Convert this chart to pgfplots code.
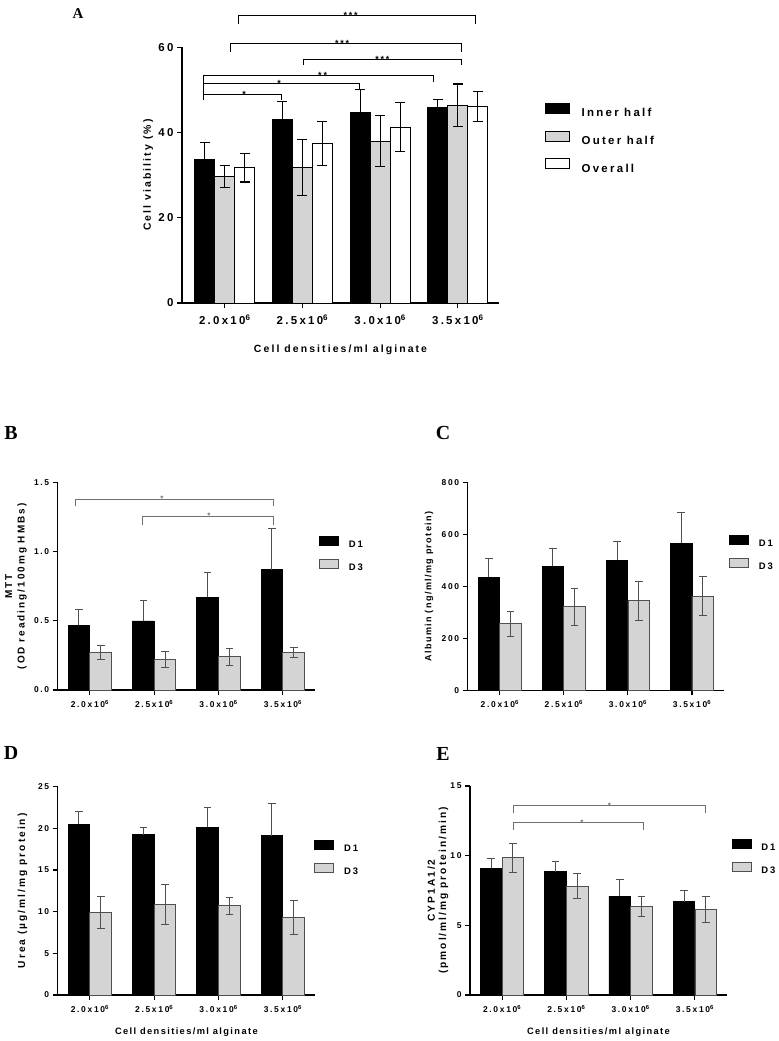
\documentclass[border=0pt]{standalone}
\usepackage{pgfplots}
\pgfplotsset{compat=1.18}
\usepackage{fontspec}
\setmainfont{Liberation Sans}
\newfontfamily\gp[LetterSpace=20]{Liberation Sans}
\newfontfamily\gpx[LetterSpace=15]{Liberation Sans}
\newfontfamily\ser{Liberation Serif}
\definecolor{lg}{HTML}{D4D4D4}
\definecolor{eg}{HTML}{505050}
\definecolor{bg}{HTML}{707070}
\newcommand\fs[1]{\fontsize{#1}{#1}\selectfont}

\pgfplotsset{
 panel/.style={
  anchor=south west, scale only axis, clip=false,
  axis lines=left, axis line style={-, line width=1.3bp, black},
  tick align=outside, major tick length=5bp,
  tick style={black, line width=1.1bp},
  xtick={0,1,2,3},
  xticklabels={2.0x10\textsuperscript{6},2.5x10\textsuperscript{6},3.0x10\textsuperscript{6},3.5x10\textsuperscript{6}},
  ymin=0,
  /pgf/number format/assume math mode=true,
  ylabel style={anchor=center},
  xlabel style={anchor=center},
  legend cell align=left,
 },
 small/.style={
  panel, xmin=-0.5, xmax=3.5,
  tick label style={font=\gp\bfseries\fs{8.5}},
  xticklabel style={yshift=-2bp},
  legend image code/.code={\draw[##1] (0bp,-1.1bp) rectangle (19bp,7.9bp);},
  legend style={at={(axis description cs:1.016,0.744)}, anchor=north west,
    draw=none, fill=none, inner sep=0pt, outer sep=0pt,
    font=\gp\bfseries\fs{9.5}, row sep=11bp,
    nodes={inner sep=0pt, text height=7bp, text depth=0bp},
    /tikz/every odd column/.append style={column sep=10bp}},
 },
 dA/.style={ybar, bar width=0.337, bar shift=0, fill=black, draw=black, line width=0.8bp,
   error bars/y dir=plus, error bars/y explicit,
   error bars/error bar style={eg, line width=1bp},
   error bars/error mark options={eg, rotate=90, mark size=3.8bp, line width=1bp}},
 dB/.style={ybar, bar width=0.337, bar shift=0, fill=lg, draw=eg, line width=0.8bp,
   error bars/y dir=both, error bars/y explicit,
   error bars/error bar style={eg, line width=1bp},
   error bars/error mark options={eg, rotate=90, mark size=3.8bp, line width=1bp}},
 eA/.style={ybar, bar width=0.257, bar shift=0, line width=0.9bp, draw=black,
   error bars/y dir=both, error bars/y explicit,
   error bars/error bar style={black, line width=1.1bp},
   error bars/error mark options={black, rotate=90, mark size=5bp, line width=1.1bp}},
 brA/.style={black, line width=1bp, mark=none},
 brB/.style={bg, line width=1bp, mark=none},
}

\begin{document}
\begin{tikzpicture}
\path[use as bounding box] (0,0) rectangle (779bp,-1041bp);

% panel letters
\node[font=\ser\bfseries\fs{15}] at (78bp,-14bp) {A};
\node[font=\ser\bfseries\fs{20}] at (11bp,-433bp) {B};
\node[font=\ser\bfseries\fs{20}] at (443bp,-433bp) {C};
\node[font=\ser\bfseries\fs{20}] at (11bp,-753bp) {D};
\node[font=\ser\bfseries\fs{20}] at (443bp,-754bp) {E};

% ---------------- Panel A
\begin{axis}[panel, at={(182bp,-303bp)}, width=317bp, height=255.7bp,
  xmin=-0.55, xmax=3.53, ymax=60, ytick={0,20,40,60},
  tick label style={font=\gp\bfseries\fs{11.5}},
  xticklabel style={yshift=-3bp},
  ylabel={Cell viability (\%)}, ylabel style={font=\gp\bfseries\fs{10.5}, at={(axis description cs:-0.107,0.5)}},
  xlabel={Cell densities/ml alginate}, xlabel style={font=\gp\bfseries\fs{10.5}, at={(axis description cs:0.5,-0.184)}},
  legend image code/.code={\draw[#1] (0bp,-0.9bp) rectangle (24bp,9.1bp);},
  legend style={at={(axis description cs:1.145,0.783)}, anchor=north west,
    draw=none, fill=none, inner sep=0pt, outer sep=0pt,
    font=\gp\bfseries\fs{11.5}, row sep=14bp,
    nodes={inner sep=0pt, text height=8.5bp, text depth=0bp},
    /tikz/every odd column/.append style={column sep=11.7bp}},
]
\addlegendimage{fill=black, draw=black, line width=0.9bp}
\addlegendentry{Inner half}
\addlegendimage{fill=lg, draw=black, line width=0.9bp}
\addlegendentry{Outer half}
\addlegendimage{fill=white, draw=black, line width=0.9bp}
\addlegendentry{Overall}
% Inner half (x = category - 0.257)
\addplot[eA, fill=black] coordinates {(-0.257,33.7) +- (0,4.0) (0.743,43.0) +- (0,4.2) (1.743,44.8) +- (0,5.3) (2.743,45.9) +- (0,1.9)};
% Outer half (x = category)
\addplot[eA, fill=lg] coordinates {(0,29.7) +- (0,2.6) (1,31.8) +- (0,6.5) (2,38.0) +- (0,6.0) (3,46.4) +- (0,5.0)};
% Overall (x = category + 0.257)
\addplot[eA, fill=white] coordinates {(0.257,31.7) +- (0,3.3) (1.257,37.4) +- (0,5.2) (2.257,41.3) +- (0,5.7) (3.257,46.1) +- (0,3.5)};
% significance brackets
\addplot[brA] coordinates {(0.171,65.4) (0.171,67.5) (3.23,67.5) (3.23,65.4)};
\addplot[brA] coordinates {(0.077,58.9) (0.077,61.0) (3.05,61.0) (3.05,58.9)};
\addplot[brA] coordinates {(1.02,55.8) (1.02,57.2) (3.05,57.2) (3.05,55.8)};
\addplot[brA] coordinates {(-0.27,47.6) (-0.27,53.5) (2.69,53.5) (2.69,51.8)};
\addplot[brA] coordinates {(-0.27,51.6) (1.74,51.6) (1.74,49.9)};
\addplot[brA] coordinates {(-0.27,48.9) (0.73,48.9) (0.73,47.6)};
\node[font=\gp\bfseries\fs{9}, anchor=base, yshift=-3bp] at (axis cs:1.62,67.5) {***};
\node[font=\gp\bfseries\fs{9}, anchor=base, yshift=-3bp] at (axis cs:1.51,61.0) {***};
\node[font=\gp\bfseries\fs{9}, anchor=base, yshift=-3bp] at (axis cs:2.03,57.2) {***};
\node[font=\gp\bfseries\fs{9}, anchor=base, yshift=-3bp] at (axis cs:1.26,53.5) {**};
\node[font=\gp\bfseries\fs{9}, anchor=base, yshift=-3bp] at (axis cs:0.70,51.6) {*};
\node[font=\gp\bfseries\fs{9}, anchor=base, yshift=-3bp] at (axis cs:0.25,48.9) {*};
\end{axis}

% ---------------- Panel B
\begin{axis}[small, at={(57.7bp,-690bp)}, width=257.3bp, height=207.3bp,
  ymax=1.5, ytick={0,0.5,1,1.5},
  yticklabel style={/pgf/number format/.cd, fixed, fixed zerofill, precision=1},
  ylabel={MTT\\(OD reading/100mg HMBs)},
  ylabel style={align=center, font=\gp\bfseries\fontsize{10}{12.5}\selectfont, at={(axis description cs:-0.162,0.5)}},
]
\addlegendimage{fill=black, draw=black, line width=0.8bp}
\addlegendentry{D1}
\addlegendimage{fill=lg, draw=eg, line width=0.8bp}
\addlegendentry{D3}
\addplot[dA] coordinates {(-0.169,0.47) +- (0,0.11) (0.831,0.50) +- (0,0.15) (1.831,0.67) +- (0,0.18) (2.831,0.87) +- (0,0.30)};
\addplot[dB] coordinates {(0.169,0.27) +- (0,0.05) (1.169,0.22) +- (0,0.06) (2.169,0.24) +- (0,0.06) (3.169,0.27) +- (0,0.035)};
\addplot[brB] coordinates {(-0.22,1.33) (-0.22,1.38) (2.86,1.38) (2.86,1.33)};
\addplot[brB] coordinates {(0.82,1.196) (0.82,1.256) (2.86,1.256) (2.86,1.196)};
\node[font=\gp\bfseries\fs{8}, anchor=base, yshift=-2.5bp, bg] at (axis cs:1.12,1.38) {*};
\node[font=\gp\bfseries\fs{8}, anchor=base, yshift=-2.5bp, bg] at (axis cs:1.85,1.256) {*};
\end{axis}

% ---------------- Panel C
\begin{axis}[small, at={(467.7bp,-690.3bp)}, width=256.3bp, height=207.6bp,
  ymax=800, ytick={0,200,400,600,800},
  ylabel={Albumin (ng/ml/mg protein)},
  ylabel style={font=\gpx\bfseries\fs{9.1}, at={(axis description cs:-0.151,0.5)}},
  legend style={at={(axis description cs:1.02,0.748)}},
]
\addlegendimage{fill=black, draw=black, line width=0.8bp}
\addlegendentry{D1}
\addlegendimage{fill=lg, draw=eg, line width=0.8bp}
\addlegendentry{D3}
\addplot[dA] coordinates {(-0.169,435) +- (0,73) (0.831,478) +- (0,70) (1.831,502) +- (0,70) (2.831,566) +- (0,120)};
\addplot[dB] coordinates {(0.169,256) +- (0,49) (1.169,322) +- (0,72) (2.169,345) +- (0,75) (3.169,363) +- (0,75)};
\end{axis}

% ---------------- Panel D
\begin{axis}[small, at={(57.7bp,-995bp)}, width=257.3bp, height=208.3bp,
  ymax=25, ytick={0,5,10,15,20,25},
  ylabel={Urea (µg/ml/mg protein)},
  ylabel style={font=\gp\bfseries\fs{10.2}, at={(axis description cs:-0.137,0.5)}},
  xlabel={Cell densities/ml alginate},
  xlabel style={font=\gpx\bfseries\fs{9.3}, at={(axis description cs:0.5,-0.176)}},
  legend style={at={(axis description cs:0.997,0.744)}},
]
\addlegendimage{fill=black, draw=black, line width=0.8bp}
\addlegendentry{D1}
\addlegendimage{fill=lg, draw=eg, line width=0.8bp}
\addlegendentry{D3}
\addplot[dA] coordinates {(-0.169,20.5) +- (0,1.5) (0.831,19.25) +- (0,0.9) (1.831,20.15) +- (0,2.3) (2.831,19.1) +- (0,3.9)};
\addplot[dB] coordinates {(0.169,9.9) +- (0,1.95) (1.169,10.9) +- (0,2.4) (2.169,10.7) +- (0,1.05) (3.169,9.3) +- (0,2.05)};
\end{axis}

% ---------------- Panel E
\begin{axis}[small, at={(470bp,-995bp)}, width=257bp, height=209bp,
  ymax=15, ytick={0,5,10,15},
  ylabel={CYP1A1/2\\(pmol/ml/mg protein/min)},
  ylabel style={align=center, font=\gp\bfseries\fontsize{10.2}{11.5}\selectfont, at={(axis description cs:-0.125,0.5)}},
  xlabel={Cell densities/ml alginate},
  xlabel style={font=\gpx\bfseries\fs{9.3}, at={(axis description cs:0.5,-0.176)}},
  legend style={at={(axis description cs:1.018,0.746)}},
]
\addlegendimage{fill=black, draw=black, line width=0.8bp}
\addlegendentry{D1}
\addlegendimage{fill=lg, draw=eg, line width=0.8bp}
\addlegendentry{D3}
\addplot[dA] coordinates {(-0.169,9.1) +- (0,0.7) (0.831,8.85) +- (0,0.7) (1.831,7.1) +- (0,1.2) (2.831,6.7) +- (0,0.8)};
\addplot[dB] coordinates {(0.169,9.85) +- (0,1.05) (1.169,7.8) +- (0,0.9) (2.169,6.35) +- (0,0.7) (3.169,6.15) +- (0,0.95)};
\addplot[brB] coordinates {(0.176,13.04) (0.176,13.57) (3.17,13.57) (3.17,13.04)};
\addplot[brB] coordinates {(0.176,11.84) (0.176,12.37) (2.2,12.37) (2.2,11.84)};
\node[font=\gp\bfseries\fs{8}, anchor=base, yshift=-2.5bp, bg] at (axis cs:1.67,13.57) {*};
\node[font=\gp\bfseries\fs{8}, anchor=base, yshift=-2.5bp, bg] at (axis cs:1.24,12.37) {*};
\end{axis}
\end{tikzpicture}
\end{document}
